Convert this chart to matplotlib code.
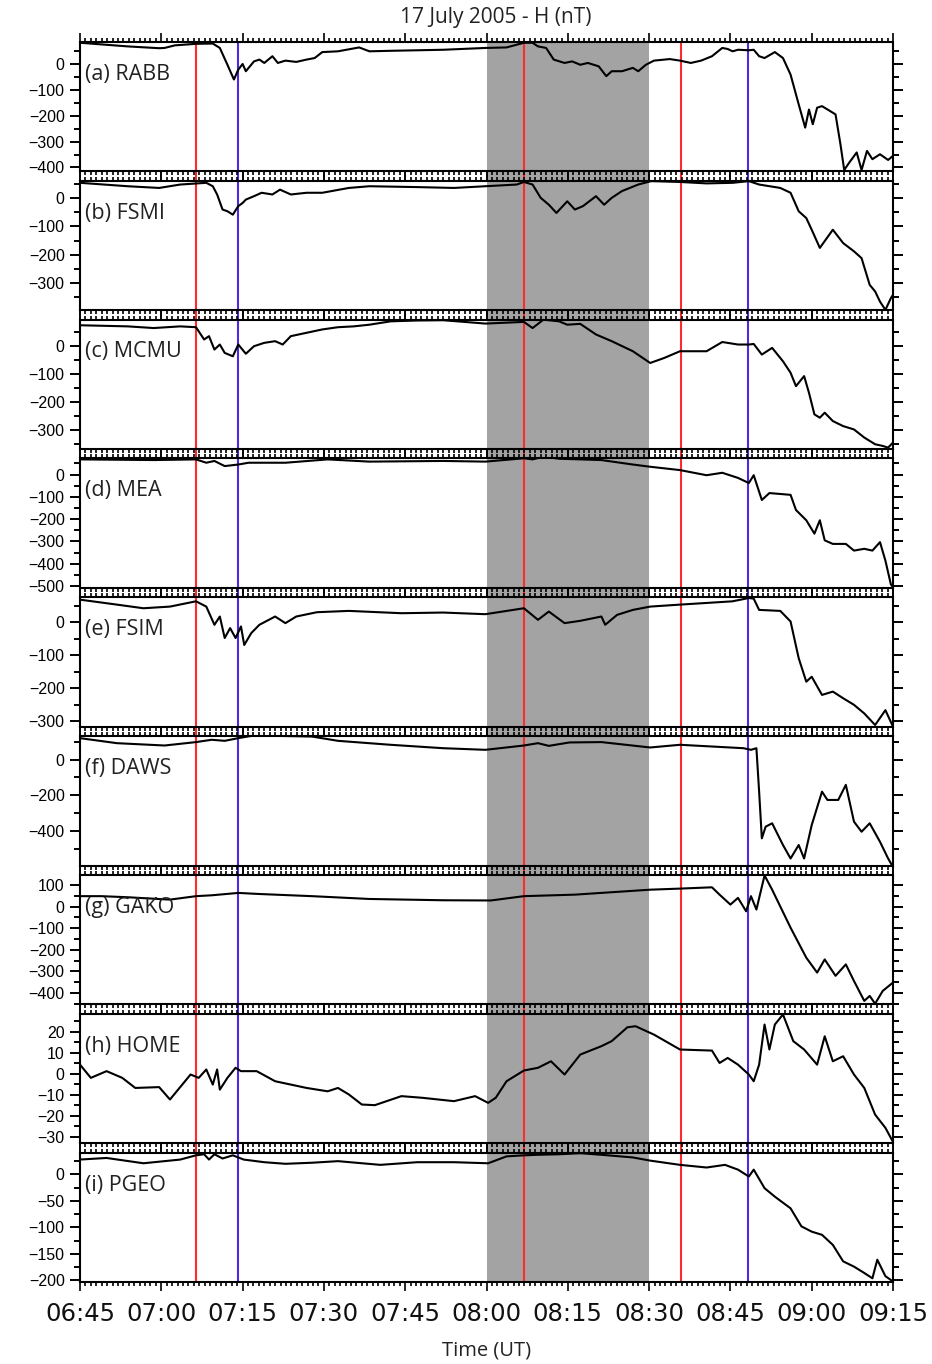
import numpy as np
import matplotlib
matplotlib.use("Agg")
import matplotlib.pyplot as plt
from matplotlib.ticker import MultipleLocator, FuncFormatter

# time in minutes after 06:45 UT, H in nT
t_rabb = [0.0, 8.8, 14.6, 15.6, 17.5, 21.4, 24.5, 25.8, 27.2, 28.4, 29.2, 30.0, 30.6, 32.1, 33.1, 34.0,
          35.5, 36.5, 37.9, 39.9, 41.8, 43.3, 44.7, 47.6, 51.5, 53.4, 57.3, 62.2, 67.0, 74.8, 78.7, 81.9,
          83.5, 84.5, 86.0, 87.4, 89.4, 90.8, 92.3, 93.7, 95.7, 97.1, 98.1, 100.0, 102.0, 103.0, 104.4,
          105.9, 108.8, 110.7, 112.7, 114.6, 116.6, 118.5, 119.5, 120.4, 121.4, 123.4, 124.3, 125.3,
          126.3, 128.2, 129.7, 131.1, 132.6, 133.8, 134.5, 135.2, 136.0, 136.9, 138.4, 139.4, 140.3,
          141.0, 141.8, 143.3, 144.2, 145.2, 146.2, 147.6, 149.1, 150.0]
h_rabb = [82, 68, 61, 62, 72, 78, 79, 62, -3, -60, -22, 0, -28, 10, 17, 4,
          30, 4, 13, 8, 17, 23, 46, 49, 64, 49, 51, 53, 55, 62, 64, 82,
          82, 68, 62, 17, 4, 10, -3, 4, -9, -47, -28, -28, -15, -28, -3,
          13, 19, 13, 4, 13, 30, 62, 58, 49, 55, 53, 55, 30,
          23, 46, 23, -41, -156, -246, -176, -233, -169, -163, -182, -195, -310,
          -410, -385, -342, -410, -336, -368, -349, -371, -355]

t_fsmi = [0.0, 8.8, 14.6, 18.5, 23.3, 24.5, 25.3, 26.3, 27.2, 28.2, 29.2, 30.0, 30.6, 32.1, 33.5, 35.5,
          36.9, 38.9, 41.8, 44.7, 49.6, 53.4, 62.2, 69.0, 74.8, 80.6, 81.9, 83.5, 85.0, 86.5, 87.9, 89.9,
          91.3, 92.8, 95.2, 96.7, 98.1, 100.0, 103.0, 105.4, 110.7, 115.6, 120.4, 123.4, 125.3, 129.2,
          131.1, 132.6, 134.0, 135.0, 136.5, 138.9, 140.8, 142.8, 144.2, 145.7, 146.7, 147.6, 148.6,
          149.6, 150.0]
h_fsmi = [53, 41, 35, 47, 53, 41, 12, -41, -47, -59, -29, -18, -6, 6, 18, 12,
          29, 12, 18, 18, 35, 41, 38, 35, 41, 47, 56, 47, 0, -24, -53, -12,
          -41, -29, 6, -24, 0, 24, 47, 59, 56, 51, 53, 59, 47, 35,
          18, -47, -71, -112, -176, -112, -159, -188, -212, -306, -329, -365, -394,
          -353, -341]

t_mcmu = [0.0, 8.8, 13.6, 18.5, 21.4, 22.9, 23.8, 24.8, 25.8, 26.7, 28.2, 29.2, 30.6, 32.1, 34.0, 36.0,
          37.4, 38.9, 41.8, 44.7, 47.6, 50.5, 53.4, 57.3, 62.2, 67.0, 74.8, 81.9, 83.5, 85.5, 88.4, 89.9,
          92.3, 95.2, 98.1, 102.0, 105.2, 107.8, 110.7, 115.6, 118.5, 121.4, 123.4, 124.3, 125.8, 127.7,
          129.7, 131.1, 132.1, 133.6, 134.5, 135.5, 136.5, 137.4, 138.9, 140.8, 142.8, 144.7, 146.7,
          148.1, 149.1, 150.0]
h_mcmu = [75, 71, 65, 71, 68, 24, 36, -12, 6, -24, -36, 6, -27, 0, 12, 18,
          6, 36, 48, 60, 68, 71, 77, 89, 92, 93, 81, 87, 65, 95, 89, 77,
          80, 42, 18, -18, -60, -42, -18, -18, 15, 6, 6, 8, -30, -6,
          -54, -95, -143, -107, -167, -244, -256, -238, -268, -286, -298, -327, -351,
          -357, -363, -345]

t_mea = [0.0, 13.6, 21.4, 23.3, 24.8, 26.7, 29.2, 31.1, 37.9, 45.7, 53.4, 67.0, 74.8, 81.9, 83.5, 85.5,
         88.4, 96.2, 102.0, 105.2, 110.7, 115.6, 118.5, 121.4, 123.4, 124.3, 125.8, 127.2, 131.1, 132.1,
         134.0, 135.5, 136.5, 137.4, 138.9, 141.3, 142.8, 144.7, 146.2, 147.6, 148.6, 149.6, 150.0]
h_mea = [68, 65, 68, 53, 61, 38, 45, 53, 53, 68, 58, 61, 58, 73, 68, 80,
         71, 65, 45, 35, 20, -3, 8, -15, -38, -3, -114, -83, -91, -159,
         -205, -265, -205, -295, -311, -311, -341, -333, -341, -303, -386, -492, -505]

t_fsim = [0.0, 6.8, 11.7, 16.6, 21.4, 23.3, 24.8, 25.8, 26.7, 27.7, 28.7, 29.7, 30.3, 31.6, 33.1, 36.0,
          37.9, 39.9, 43.7, 49.6, 59.3, 67.0, 74.8, 81.9, 84.5, 86.5, 89.4, 92.3, 96.2, 96.9, 99.1, 102.0,
          105.2, 110.7, 115.6, 120.4, 123.4, 124.3, 125.3, 129.2, 131.1, 132.6, 134.0, 135.0, 136.9,
          138.9, 140.8, 142.8, 144.7, 146.7, 148.6, 150.0]
h_fsim = [68, 53, 42, 47, 63, 47, -8, 17, -48, -18, -48, -13, -69, -33, -8, 17,
          -3, 17, 30, 34, 27, 29, 24, 42, 7, 32, -3, 4, 17, -8, 22, 37,
          47, 53, 58, 63, 73, 71, 37, 34, 2, -109, -180, -165, -220,
          -210, -230, -250, -276, -311, -266, -316]

t_daws = [0.0, 6.8, 15.6, 21.4, 24.3, 26.7, 29.2, 32.1, 42.8, 47.6, 57.3, 67.0, 74.8, 81.9, 84.5, 86.5,
          90.3, 96.2, 105.2, 110.7, 122.4, 123.8, 124.8, 125.3, 125.8, 126.5, 127.7, 129.7, 131.1, 132.6,
          133.6, 135.0, 136.9, 137.9, 139.9, 141.3, 142.8, 144.2, 145.7, 147.6, 149.1, 149.8]
h_daws = [119, 91, 78, 97, 110, 104, 119, 134, 128, 104, 82, 63, 54, 78, 91, 76,
          95, 97, 67, 82, 63, 54, 63, -179, -439, -374, -355, -476, -551, -476,
          -551, -365, -179, -225, -225, -141, -346, -402, -355, -458, -551, -588]

t_gako = [0.0, 3.9, 8.8, 16.6, 21.4, 24.3, 29.2, 33.1, 42.8, 53.4, 67.0, 75.8, 81.9, 91.3, 105.2, 110.7,
          116.6, 118.0, 120.0, 121.4, 122.9, 123.8, 124.8, 126.3, 127.7, 131.1, 134.0, 136.0, 137.4,
          139.4, 141.3, 142.8, 144.7, 145.7, 146.7, 148.1, 150.0]
h_gako = [48, 48, 43, 32, 48, 52, 63, 58, 48, 35, 29, 28, 48, 55, 78, 83,
          89, 55, 9, 40, -22, 48, -14, 144, 78, -98, -237, -306, -245,
          -321, -268, -345, -437, -414, -450, -391, -352]

t_home = [0.0, 2.0, 4.9, 7.8, 10.2, 14.6, 16.6, 20.4, 21.9, 23.3, 24.5, 25.3, 25.8, 27.2, 28.7, 29.7,
          32.6, 36.0, 38.9, 41.8, 45.7, 47.6, 49.6, 52.0, 54.4, 59.3, 63.2, 69.0, 72.9, 75.3, 76.7, 78.7,
          81.9, 84.5, 86.9, 89.4, 92.3, 96.2, 98.1, 101.0, 102.5, 105.9, 110.7, 116.6, 118.0, 119.5,
          121.4, 123.4, 124.3, 125.3, 126.3, 127.2, 128.2, 129.7, 131.6, 133.6, 136.0, 137.4, 138.9,
          140.8, 142.8, 144.7, 146.7, 148.6, 150.0]
h_home = [4.4, -1.9, 1.3, -1.9, -6.7, -6.3, -12.2, -0.3, -1.9, 2.1, -5.1, 2.1, -7.5, -1.9, 2.9, 1.3,
          1.3, -3.5, -5.1, -6.7, -8.3, -6.7, -9.8, -14.6, -14.9, -10.6, -11.4, -13.0, -10.6, -13.8, -11.4, -3.5,
          1.6, 2.9, 6.0, -0.3, 9.2, 13.2, 15.6, 22.2, 22.7, 18.7, 11.6, 11.1, 5.2, 7.6,
          4.4, -0.3, -3.5, 4.4, 23.5, 11.6, 23.5, 28.3, 15.6, 11.6, 4.4, 17.9, 6.0,
          8.4, -0.3, -6.7, -19.4, -25.7, -32.4]

t_pgeo = [0.0, 4.9, 11.7, 18.5, 21.4, 22.9, 23.8, 24.8, 26.3, 28.2, 30.2, 34.0, 37.9, 42.8, 47.6, 55.4,
          62.2, 69.0, 75.3, 78.7, 81.9, 84.5, 88.4, 92.3, 96.2, 102.0, 105.2, 110.7, 115.6, 119.0, 121.4,
          123.4, 124.3, 126.3, 128.2, 131.1, 133.1, 135.0, 136.9, 138.9, 140.8, 142.8, 144.7, 146.2,
          147.1, 148.6, 150.0]
h_pgeo = [28, 31, 21, 28, 36, 38, 28, 38, 30, 36, 28, 23, 20, 22, 25, 18,
          23, 23, 21, 34, 36, 37, 38, 40, 37, 32, 26, 18, 13, 18, 9,
          -4, 9, -26, -42, -64, -98, -108, -114, -133, -164, -174, -186, -196,
          -161, -192, -202]

stations = ["(a) RABB", "(b) FSMI", "(c) MCMU", "(d) MEA", "(e) FSIM",
            "(f) DAWS", "(g) GAKO", "(h) HOME", "(i) PGEO"]
times = [t_rabb, t_fsmi, t_mcmu, t_mea, t_fsim, t_daws, t_gako, t_home, t_pgeo]
values = [h_rabb, h_fsmi, h_mcmu, h_mea, h_fsim, h_daws, h_gako, h_home, h_pgeo]

# axis ranges and tick spacing for each panel
ylims = [(-415, 85), (-395, 60), (-368, 95), (-508, 72), (-316, 75),
         (-590, 130), (-453, 146), (-33, 28.6), (-203, 41)]
y_major = [100, 100, 100, 100, 100, 200, 100, 10, 50]
y_minor = [50, 50, 50, 50, 50, 100, 50, 5, 25]

red_times = [21.4, 81.9, 110.9]
blue_times = [29.2, 123.3]
shade = (75, 105)

W, H = 932, 1364
left, right = 80, 893
top0, bottom = 42, 1282
gap = 9.5
ph = (bottom - top0 - 8 * gap) / 9

fig = plt.figure(figsize=(W / 100, H / 100), dpi=100)

# background axes carrying the shading and event lines across all panels
bg = fig.add_axes([left / W, 1 - bottom / H, (right - left) / W, (bottom - top0) / H], zorder=0)
bg.set_xlim(0, 150)
bg.axis("off")
bg.axvspan(shade[0], shade[1], color="#a3a3a3", lw=0)
for t in red_times:
    bg.axvline(t, color="#ff2a2a", lw=1.5)
for t in blue_times:
    bg.axvline(t, color="#5028e0", lw=1.5)


def fmt_time(v, pos):
    m = int(round(v)) + 6 * 60 + 45
    return f"{m // 60:02d}:{m % 60:02d}"


for i in range(9):
    top = top0 + i * (ph + gap)
    ax = fig.add_axes([left / W, 1 - (top + ph) / H, (right - left) / W, ph / H], zorder=1)
    ax.patch.set_alpha(0)
    ax.plot(times[i], values[i], color="black", lw=1.5)
    ax.set_xlim(0, 150)
    ax.set_ylim(*ylims[i])
    ax.xaxis.set_major_locator(MultipleLocator(15))
    ax.xaxis.set_minor_locator(MultipleLocator(1))
    ax.yaxis.set_major_locator(MultipleLocator(y_major[i]))
    ax.yaxis.set_minor_locator(MultipleLocator(y_minor[i]))
    ax.tick_params(axis="x", which="both", direction="out", top=True, bottom=True,
                   labelbottom=(i == 8), width=1.2)
    ax.tick_params(axis="x", which="major", length=6.5)
    ax.tick_params(axis="x", which="minor", length=2.8)
    ax.tick_params(axis="y", which="both", direction="out", left=True, right=True, width=1.4)
    ax.tick_params(axis="y", which="major", length=7.5)
    ax.tick_params(axis="y", which="minor", length=4)
    for lab in ax.get_yticklabels():
        lab.set_fontfamily("Liberation Sans")
        lab.set_fontsize(11.5)
    for s in ax.spines.values():
        s.set_linewidth(1.5)
    ax.text(0.006, 0.75, stations[i], transform=ax.transAxes, ha="left", va="center",
            fontsize=15.5, family="Open Sans", color="#222222")
    if i == 8:
        ax.xaxis.set_major_formatter(FuncFormatter(fmt_time))
        ax.tick_params(axis="x", which="major", labelsize=17.5, pad=8, labelcolor="#111111")
        for lab in ax.get_xticklabels():
            lab.set_fontfamily("DejaVu Sans")
        ax.set_xlabel("Time (UT)", fontsize=14.5, family="Open Sans", labelpad=10, color="#222222")

fig.text(0.532, 1 - 17 / H, "17 July 2005 - H (nT)", ha="center", va="center",
         fontsize=15, family="Open Sans", color="#222222")

fig.savefig("out.png", dpi=100)
